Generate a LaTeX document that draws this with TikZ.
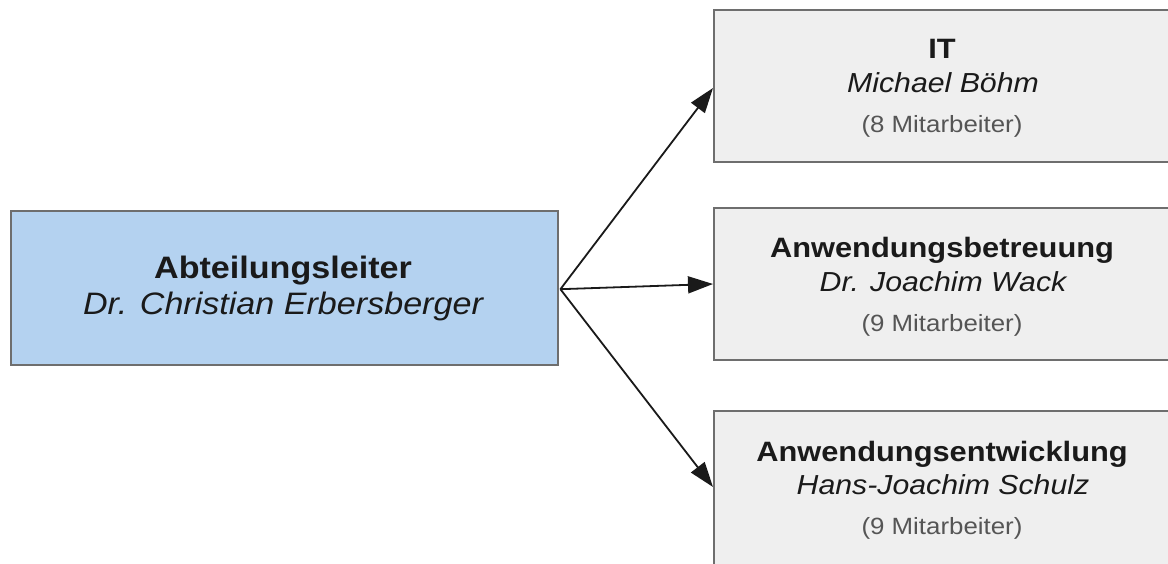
\documentclass[tikz,border=0pt]{standalone}
\usepackage{fontspec}
\setmainfont{Liberation Sans}[FakeStretch=1.1]
\usetikzlibrary{arrows.meta,calc}
\definecolor{leadfill}{HTML}{B4D2F0}
\definecolor{unitfill}{HTML}{EFEFEF}
\definecolor{boxline}{HTML}{6E6E6E}
\definecolor{txt}{HTML}{1A1A1A}
\definecolor{cnt}{HTML}{555555}
\tikzset{
  box/.style={draw=boxline, line width=2.4pt, rectangle, anchor=north west, inner sep=0pt},
  leadbox/.style={box, fill=leadfill},
  unitbox/.style={box, fill=unitfill},
  ttl/.style={anchor=base, inner sep=0pt, text=txt, font=\fontsize{28}{32}\selectfont\bfseries},
  nme/.style={anchor=base, inner sep=0pt, text=txt, font=\fontsize{27.5}{32}\selectfont\itshape},
  num/.style={anchor=base, inner sep=0pt, text=cnt, font=\fontsize{23.5}{28}\selectfont},
  lttl/.style={anchor=base, inner sep=0pt, text=txt, font=\fontsize{31}{36}\selectfont\bfseries},
  lnme/.style={anchor=base, inner sep=0pt, text=txt, font=\fontsize{31}{36}\selectfont\itshape},
  conn/.style={draw=txt, line width=1.8pt, -{Triangle[length=25pt,width=17pt]}}
}
\begin{document}
\begin{tikzpicture}[x=1pt,y=-1pt]
\useasboundingbox (0,0) rectangle (1168,564);
\fill[white] (0,0) rectangle (1168,564);
% boxes
\node[leadbox, minimum width=547pt, minimum height=154pt] (lead) at (10,210) {};
\node[unitbox, minimum width=470pt, minimum height=152pt] (it) at (713,9) {};
\node[unitbox, minimum width=470pt, minimum height=152pt] (betr) at (713,207) {};
\node[unitbox, minimum width=470pt, minimum height=180pt] (entw) at (713,410) {};
% texts
\node[lttl] (leadt) at (283,279) {Abteilungsleiter};
\node[lnme] (leadn) at (283,315) {Dr. Christian Erbersberger};
\node[ttl] (itt) at (942,59) {IT};
\node[nme] (itn) at (943,93) {Michael Böhm};
\node[num] (itc) at (942,133) {(8 Mitarbeiter)};
\node[ttl] (betrt) at (942,258) {Anwendungsbetreuung};
\node[nme] (betrn) at (943,291) {Dr. Joachim Wack};
\node[num] (betrc) at (942,331) {(9 Mitarbeiter)};
\node[ttl] (entwt) at (942,461) {Anwendungsentwicklung};
\node[nme] (entwn) at (943,494) {Hans-Joachim Schulz};
\node[num] (entwc) at (942,534) {(9 Mitarbeiter)};
% connectors
\coordinate (src) at ($(lead.east)+(1,1)$);
\draw[conn] (src) -- ($(it.north west)+(0,79)$);
\draw[conn] (src) -- ($(betr.north west)+(0,77)$);
\draw[conn] (src) -- ($(entw.north west)+(0,77)$);
\end{tikzpicture}
\end{document}
